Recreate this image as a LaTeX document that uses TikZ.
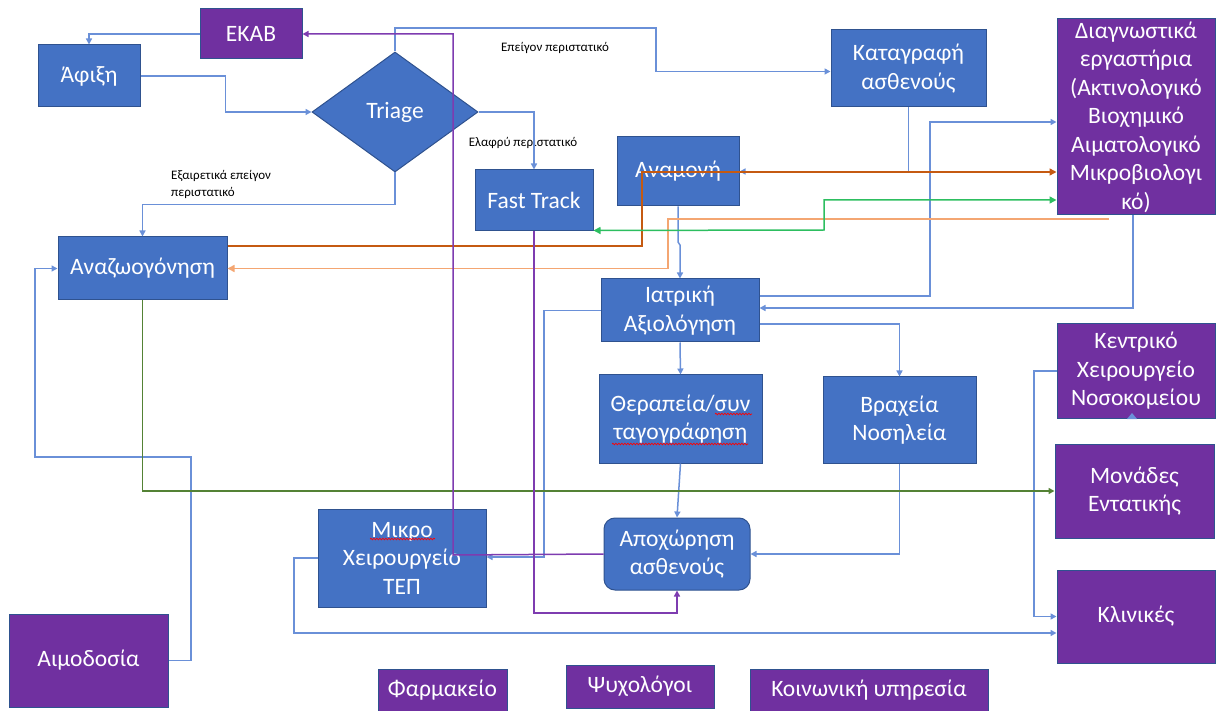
\documentclass[tikz,border=0pt]{standalone}
\usepackage{fontspec}
\setmainfont{Carlito}
\usetikzlibrary{arrows.meta,shapes.geometric,decorations.pathmorphing}
\definecolor{boxblue}{HTML}{4472C4}
\definecolor{boxedge}{HTML}{2F528F}
\definecolor{boxpurple}{HTML}{7030A0}
\definecolor{lineblue}{HTML}{6A90D8}
\definecolor{darkorange}{HTML}{C55A11}
\definecolor{lightorange}{HTML}{F4A672}
\definecolor{brightgreen}{HTML}{2DBE60}
\definecolor{darkgreen}{HTML}{548235}
\definecolor{linepurple}{HTML}{7E3CB0}
\begin{document}
\begin{tikzpicture}[x=1pt,y=-1pt,
  bx/.style={draw=boxedge, line width=1pt, fill=boxblue, text=white, align=center,
    inner sep=0pt, font=\fontsize{23.5}{28.5}\selectfont},
  pbx/.style={bx, fill=boxpurple},
  conn/.style={draw=lineblue, line width=1.5pt, -{Triangle[width=6pt,length=6pt]}},
  lbl/.style={font=\fontsize{13}{17}\selectfont, text=black, inner sep=0pt},
  squig/.style={draw=red, line width=0.7pt, decorate, decoration={snake, amplitude=0.8pt, segment length=3pt}}
]
\useasboundingbox (0,0) rectangle (1216,711);

% nodes
\node[pbx, minimum width=102pt, minimum height=50pt] (ekab) at (251,34) {ΕΚΑΒ};
\node[bx, minimum width=102pt, minimum height=62pt] (afixi) at (89,76) {Άφιξη};
\node[bx, diamond, minimum width=166pt, minimum height=120pt] (triage) at (395,112) {Triage};
\node[bx, minimum width=155pt, minimum height=77pt] (katagrafi) at (908.5,68.5) {Καταγραφή\\ασθενούς};
\node[pbx, minimum width=158pt, minimum height=196pt] (diag) at (1136,117) {Διαγνωστικά\\εργαστήρια\\(Ακτινολογικό\\Βιοχημικό\\Αιματολογικό\\Μικροβιολογι\\κό)};
\node[bx, minimum width=118pt, minimum height=61pt] (fast) at (534,200.5) {Fast Track};
\node[bx, minimum width=122pt, minimum height=69pt] (anamoni) at (678,171.5) {Αναμονή};
\node[bx, minimum width=169pt, minimum height=63pt] (anazo) at (142.5,268.5) {Αναζωογόνηση};
\node[bx, minimum width=158pt, minimum height=63pt] (iatr) at (680,310.5) {Ιατρική\\Αξιολόγηση};
\node[bx, minimum width=163pt, minimum height=88pt] (therap) at (680.5,419) {Θεραπεία/συν\\ταγογράφηση};
\node[bx, minimum width=153pt, minimum height=86pt] (vrax) at (899.5,420) {Βραχεία\\Νοσηλεία};
\node[pbx, minimum width=158pt, minimum height=94pt] (kentr) at (1136,371) {Κεντρικό\\Χειρουργείο\\Νοσοκομείου};
\node[pbx, minimum width=159pt, minimum height=94pt] (monades) at (1134.5,491) {Μονάδες\\Εντατικής};
\node[pbx, minimum width=158pt, minimum height=93pt] (klin) at (1136,616.5) {Κλινικές};
\node[bx, minimum width=168pt, minimum height=98pt] (mikro) at (402,558) {Μικρο\\Χειρουργείο\\ΤΕΠ};
\node[bx, rounded corners=11pt, minimum width=146pt, minimum height=72pt] (apox) at (677,554) {Αποχώρηση\\ασθενούς};
\node[pbx, minimum width=159pt, minimum height=93pt] (aimo) at (88.5,660.5) {Αιμοδοσία};
\node[pbx, minimum width=129pt, minimum height=42pt] (farm) at (442.5,690) {Φαρμακείο};
\node[pbx, minimum width=148pt, minimum height=43pt] (psych) at (640,686.5) {Ψυχολόγοι};
\node[pbx, minimum width=238pt, minimum height=42pt] (koin) at (869,690) {Κοινωνική υπηρεσία};

% spell-check squiggles
\draw[squig] (715,414) -- (752,414);
\draw[squig] (612,444) -- (748,444);
\draw[squig] (370,539) -- (435,539);

% labels
\node[lbl] (l1) at (555,48) {Επείγον περιστατικό};
\node[lbl] (l2) at (523,143) {Ελαφρύ περιστατικό};
\node[lbl, anchor=north west, align=left] (l3) at (171,170) {Εξαιρετικά επείγον\\περιστατικό};

% turning points
\coordinate (t1) at (656,28);
\coordinate (lo) at (1109,219);
\coordinate (db) at (1133,215);

% connectors
\draw[conn] (ekab.west) -| (afixi.north);
\draw[conn] (afixi.east) -- ++(85,0) |- (triage.west);
\draw[conn] (triage.north) |- (t1) |- ([yshift=-3pt]katagrafi.west);
\draw[conn] (triage.east) -| (fast.north);
\draw[conn] (triage.south) -- ++(0,32) -| (anazo.north);
\draw[conn] (katagrafi.south) |- (anamoni.east);
\draw[conn] (anamoni.south) -- (678,242) -- (680,245) -- (iatr.north);
\draw[conn] ([yshift=14.5pt]iatr.east) -- (930,296) |- ([yshift=-5pt]diag.west);
\draw[conn] (db) -- (1133,308) -- ([yshift=2.5pt]iatr.east);
\draw[conn] ([yshift=-13.5pt]iatr.east) -| (vrax.north);
\draw[conn] (iatr.south) -- (therap.north);
\draw[conn] (iatr.west) -- (544,310.5) -- (544,557) -- ([yshift=1pt]mikro.east);
\draw[conn] (therap.south) -- (apox.north);
\draw[conn] (vrax.south) |- (apox.east);
\draw[conn] (aimo.east) -- (191,660.5) -- (191,457) -- (35,457) |- (anazo.west);
\draw[conn] (mikro.west) -- (294,558) |- ([yshift=-16.5pt]klin.west);
\draw[conn] (kentr.west) -- (1034,371) |- (klin.west);
\fill[lineblue] (1127,419) -- (1137,419) -- (1132,413) -- cycle;

% coloured connectors
\draw[conn, draw=darkorange, -{Triangle[width=7pt,length=7pt,fill=darkorange]}] ([yshift=22.5pt]anazo.east) -- (642,246) -- (642,172) -- ([yshift=-55pt]diag.west);
\draw[conn, draw=lightorange, -{Triangle[width=7pt,length=7pt,fill=lightorange]}] (lo) -- (668,219) |- (anazo.east);
\draw[conn, draw=brightgreen, {Triangle[width=7pt,length=7pt,fill=brightgreen]}-{Triangle[width=7pt,length=7pt,fill=brightgreen]}] ([yshift=1pt]fast.south east) -- (824,230) -- (824,200) -- ([yshift=-83pt]diag.west);
\draw[conn, draw=darkgreen, -{Triangle[width=6pt,length=6pt,fill=darkgreen]}] (anazo.south) |- (monades.west);
\draw[conn, draw=linepurple, -{Triangle[width=6pt,length=6pt,fill=linepurple]}] (apox.west) -- (453,555) -- (453,34) -- (ekab.east);
\draw[conn, draw=linepurple, -{Triangle[width=6pt,length=6pt,fill=linepurple]}] (fast.south) -- (534,613) -| (apox.south);
\end{tikzpicture}
\end{document}
